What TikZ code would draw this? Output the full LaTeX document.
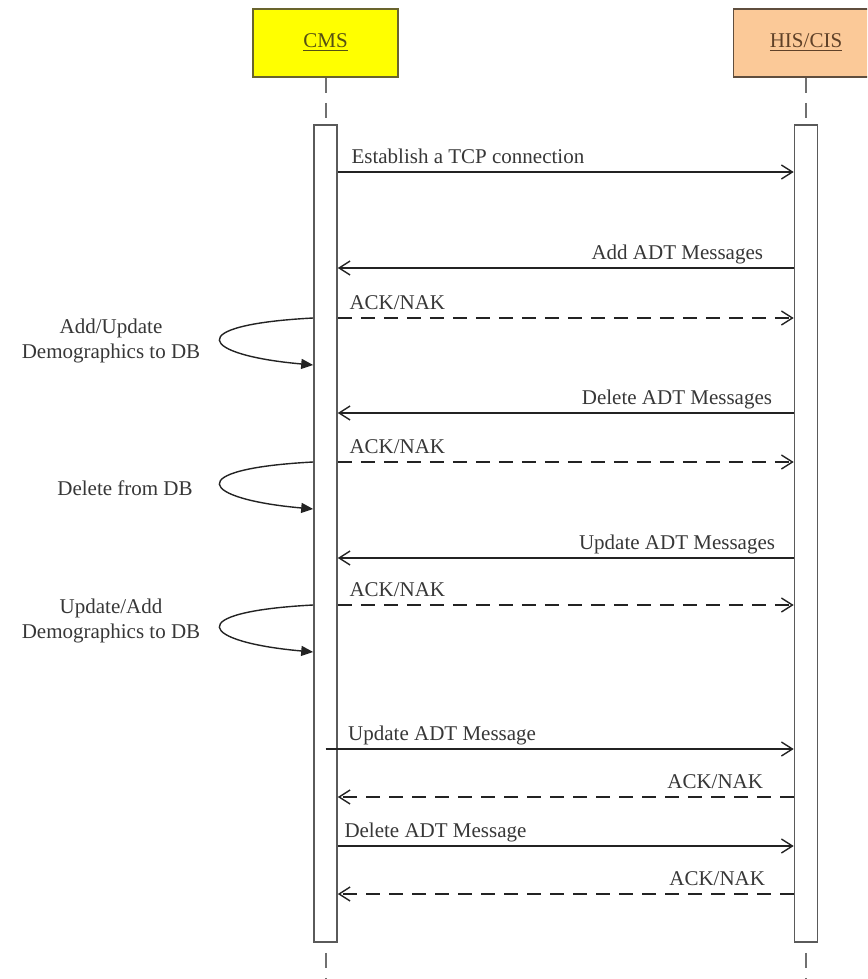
\documentclass[tikz,border=0pt]{standalone}
\usepackage{fontspec}
\setmainfont{Liberation Serif}
\definecolor{cmsfill}{RGB}{255, 255, 0}
\definecolor{cmsline}{RGB}{105, 100, 45}
\definecolor{cmstext}{RGB}{85, 80, 20}
\definecolor{hisfill}{RGB}{251, 201, 152}
\definecolor{hisline}{RGB}{95, 78, 62}
\definecolor{histext}{RGB}{95, 65, 40}
\definecolor{seqline}{RGB}{35, 35, 35}
\definecolor{seqtext}{RGB}{55, 55, 55}
\usetikzlibrary{arrows.meta, positioning, calc}

\begin{document}
\begin{tikzpicture}[x=0.5pt, y=-0.5pt, font=\fontsize{10.5}{12.5}\selectfont,
  actor/.style={draw, line width=0.8pt, minimum width=72.5pt, minimum height=34pt, inner sep=0pt},
  bar/.style={draw=seqline!75, line width=0.8pt, fill=white, minimum width=11.5pt,
              minimum height=408.5pt, inner sep=0pt},
  lifeline/.style={draw=seqline!65, line width=1pt, dash pattern=on 7.5pt off 5pt},
  msg/.style={draw=seqline, line width=0.7pt, -{Straight Barb[length=5.5pt, width=7pt]}},
  reply/.style={msg, dash pattern=on 7pt off 4.5pt},
  selfmsg/.style={draw=seqline, line width=0.7pt, -{Triangle[length=6pt, width=5pt]}},
  lbl/.style={text=seqtext, inner sep=0pt},
  note/.style={text=seqtext, align=center, inner sep=0pt}]
  \useasboundingbox (0,0) rectangle (867,979);
  \clip (0,0) rectangle (867,979);

  % actors
  \node[actor, draw=cmsline, fill=cmsfill, text=cmstext] (cms) at (325.5,43) {\underline{CMS}};
  \node[actor, draw=hisline, fill=hisfill, text=histext] (his) at (806,43) {\underline{HIS/CIS}};

  % lifelines and activation bars
  \draw[lifeline] (cms.south) -- (325.5,979);
  \draw[lifeline] (his.south) -- (806,979);
  \node[bar] (cmsbar) at (325.5,533.5) {};
  \node[bar] (hisbar) at (806,533.5) {};

  % end points of the messages on both bars
  \foreach \n/\y in {1/172, 2/268, 3/318, 4/413, 5/462, 6/558, 7/605, 8/749, 9/797, 10/846, 11/894} {
    \coordinate (c\n) at (cmsbar.east |- 0,\y);
    \coordinate (h\n) at (hisbar.west |- 0,\y);
  }
  \coordinate (c8) at (cmsbar.center |- 0,749);
  \foreach \n in {3, 5, 7} {
    \coordinate (s\n) at ($(cmsbar.west |- c\n)$);
    \coordinate (e\n) at ($(s\n)+(0,47)$);
  }

  % messages
  \draw[msg] (c1) -- (h1) node[lbl, pos=0, anchor=base west, xshift=6.5pt, yshift=4.5pt]{Establish a TCP connection};
  \draw[msg] (h2) -- (c2) node[lbl, pos=0, anchor=base east, xshift=-15pt, yshift=4.5pt]{Add ADT Messages};
  \draw[reply] (c3) -- (h3) node[lbl, pos=0, anchor=base west, xshift=5.5pt, yshift=4.5pt]{ACK/NAK};
  \draw[msg] (h4) -- (c4) node[lbl, pos=0, anchor=base east, xshift=-10.5pt, yshift=4.5pt]{Delete ADT Messages};
  \draw[reply] (c5) -- (h5) node[lbl, pos=0, anchor=base west, xshift=5.5pt, yshift=4.5pt]{ACK/NAK};
  \draw[msg] (h6) -- (c6) node[lbl, pos=0, anchor=base east, xshift=-9pt, yshift=4.5pt]{Update ADT Messages};
  \draw[reply] (c7) -- (h7) node[lbl, pos=0, anchor=base west, xshift=5.5pt, yshift=4.5pt]{ACK/NAK};
  \draw[msg] (c8) -- (h8) node[lbl, pos=0, anchor=base west, xshift=11pt, yshift=4.5pt]{Update ADT Message};
  \draw[reply] (h9) -- (c9) node[lbl, pos=0, anchor=base east, xshift=-15pt, yshift=4.5pt]{ACK/NAK};
  \draw[msg] (c10) -- (h10) node[lbl, pos=0, anchor=base west, xshift=3pt, yshift=4.5pt]{Delete ADT Message};
  \draw[reply] (h11) -- (c11) node[lbl, pos=0, anchor=base east, xshift=-14pt, yshift=4.5pt]{ACK/NAK};

  % self calls on CMS
  \draw[selfmsg] (s3) .. controls (180,325) and (200,355) .. (e3);
  \draw[selfmsg] (s5) .. controls (180,469) and (200,499) .. (e5);
  \draw[selfmsg] (s7) .. controls (180,612) and (200,642) .. (e7);
  \node[note] (n3) at (111,341) {Add/Update\\Demographics to DB};
  \node[note] (n5) at (125,488) {Delete from DB};
  \node[note] (n7) at (111,621) {Update/Add\\Demographics to DB};
\end{tikzpicture}
\end{document}
